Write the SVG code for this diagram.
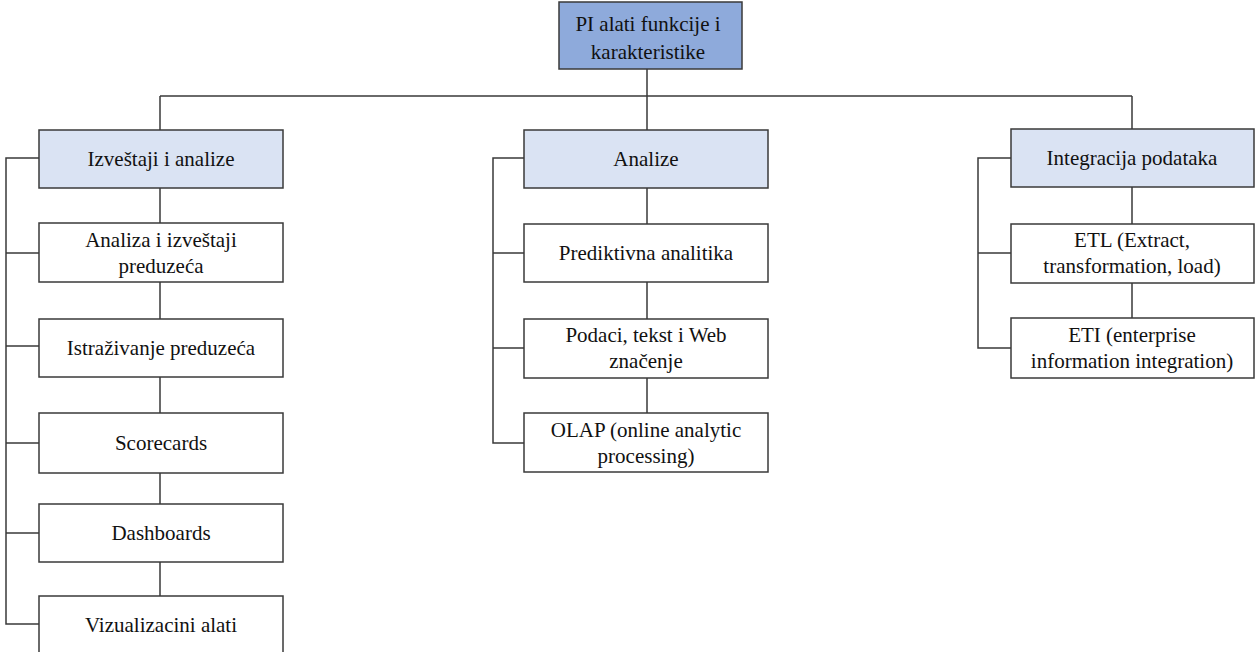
<svg xmlns="http://www.w3.org/2000/svg" width="1255" height="652" viewBox="0 0 1255 652">
  <style>
    .box { fill: #ffffff; stroke: #3a3a3a; stroke-width: 1.5; }
    .root { fill: #8eaadb; }
    .cat { fill: #dae3f3; }
    .lbl { font-family: "Liberation Serif", "Times New Roman", serif; font-size: 21px; fill: #111111; text-anchor: middle; }
    .wire { fill: none; stroke: #3a3a3a; stroke-width: 1.5; }
  </style>
  <rect width="1255" height="652" fill="#ffffff"/>

  <!-- connectors -->
  <g id="connectors" class="wire">
    <path d="M647 69 V96 M160 96 H1132 M160 96 V130 M647 96 V130 M1132 96 V130"/>
    <!-- left column -->
    <path d="M39 158 H6 V624 H39 M6 253 H39 M6 346 H39 M6 443 H39 M6 533 H39"/>
    <path d="M160 188 V223 M160 282 V319 M160 377 V413 M160 473 V504 M160 562 V596"/>
    <!-- middle column -->
    <path d="M524 158 H493 V443 H524 M493 253 H524 M493 348 H524"/>
    <path d="M647 188 V224 M647 282 V319 M647 378 V413"/>
    <!-- right column -->
    <path d="M1011 158 H978 V348 H1011 M978 253 H1011"/>
    <path d="M1132 187 V224 M1132 283 V318"/>
  </g>

  <g id="root">
    <rect class="box root" x="559" y="2" width="183" height="67"/>
    <text class="lbl" x="648" y="31">PI alati funkcije i</text>
    <text class="lbl" x="648" y="59">karakteristike</text>
  </g>

  <!-- left column -->
  <g id="izvestaji">
    <rect class="box cat" x="39" y="130" width="244" height="58"/>
    <text class="lbl" x="161" y="166">Izveštaji i analize</text>
  </g>
  <g id="analiza-izvestaji">
    <rect class="box" x="39" y="223" width="244" height="59"/>
    <text class="lbl" x="161" y="247">Analiza i izveštaji</text>
    <text class="lbl" x="161" y="273">preduzeća</text>
  </g>
  <g id="istrazivanje">
    <rect class="box" x="39" y="319" width="244" height="58"/>
    <text class="lbl" x="161" y="355">Istraživanje preduzeća</text>
  </g>
  <g id="scorecards">
    <rect class="box" x="39" y="413" width="244" height="60"/>
    <text class="lbl" x="161" y="450">Scorecards</text>
  </g>
  <g id="dashboards">
    <rect class="box" x="39" y="504" width="244" height="58"/>
    <text class="lbl" x="161" y="540">Dashboards</text>
  </g>
  <g id="vizualizacija">
    <rect class="box" x="39" y="596" width="244" height="60"/>
    <text class="lbl" x="161" y="632">Vizualizacini alati</text>
  </g>

  <!-- middle column -->
  <g id="analize">
    <rect class="box cat" x="524" y="130" width="244" height="58"/>
    <text class="lbl" x="646" y="166">Analize</text>
  </g>
  <g id="prediktivna">
    <rect class="box" x="524" y="224" width="244" height="58"/>
    <text class="lbl" x="646" y="260">Prediktivna analitika</text>
  </g>
  <g id="podaci">
    <rect class="box" x="524" y="319" width="244" height="59"/>
    <text class="lbl" x="646" y="342">Podaci, tekst i Web</text>
    <text class="lbl" x="646" y="368">značenje</text>
  </g>
  <g id="olap">
    <rect class="box" x="524" y="413" width="244" height="59"/>
    <text class="lbl" x="646" y="437">OLAP (online analytic</text>
    <text class="lbl" x="646" y="463">processing)</text>
  </g>

  <!-- right column -->
  <g id="integracija">
    <rect class="box cat" x="1011" y="129" width="243" height="58"/>
    <text class="lbl" x="1132" y="165">Integracija podataka</text>
  </g>
  <g id="etl">
    <rect class="box" x="1011" y="224" width="243" height="59"/>
    <text class="lbl" x="1132" y="247">ETL (Extract,</text>
    <text class="lbl" x="1132" y="273">transformation, load)</text>
  </g>
  <g id="eti">
    <rect class="box" x="1011" y="318" width="243" height="60"/>
    <text class="lbl" x="1132" y="342">ETI (enterprise</text>
    <text class="lbl" x="1132" y="368">information integration)</text>
  </g>
</svg>
